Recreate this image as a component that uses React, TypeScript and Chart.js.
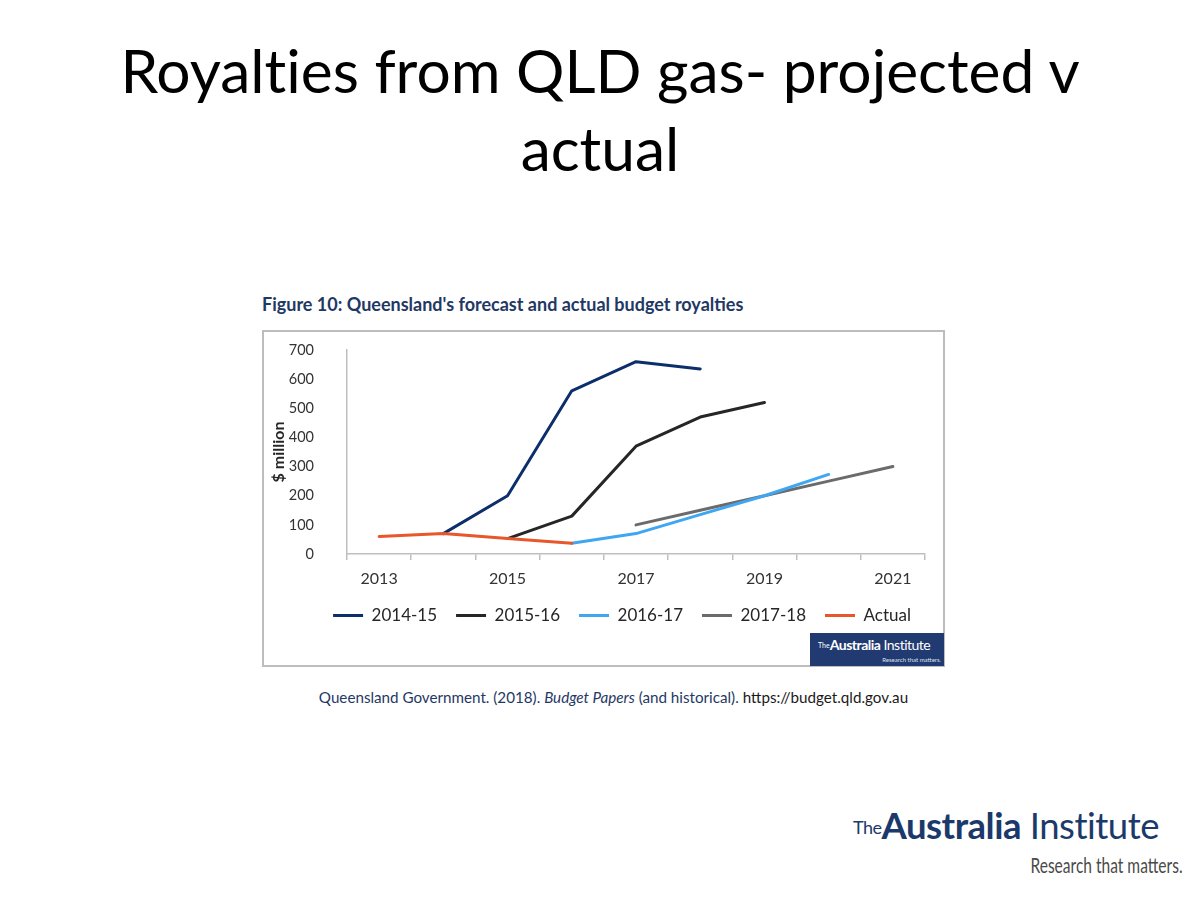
import React, { useEffect, useRef } from 'react';
import { Chart, registerables } from 'chart.js';

Chart.register(...registerables);

// ---- data ----
const years = ['2013', '2014', '2015', '2016', '2017', '2018', '2019', '2020', '2021'];
const shownYears = ['2013', '2015', '2017', '2019', '2021'];
const forecast201415 = [null, 70, 200, 560, 660, 635, null, null, null];
const forecast201516 = [null, null, 53, 130, 370, 470, 520, null, null];
const forecast201617 = [null, null, null, 37, 70, 135, 200, 273, null];
const forecast201718 = [null, null, null, null, 100, 150, 200, 250, 300];
const actual = [60, 70, 53, 37, null, null, null, null, null];
const yMin = 0;
const yMax = 700;
const yStep = 100;

const seriesNames = ['2014-15', '2015-16', '2016-17', '2017-18', 'Actual'];
const seriesColors = ['#0c2f6b', '#262626', '#3fa6f2', '#6b6b6b', '#e8562c'];

const FONT = 'Lato, "Open Sans", sans-serif';
const NAVY = '#1f3864';

export default function App() {
  const ref = useRef<HTMLCanvasElement>(null);

  useEffect(() => {
    const seriesData = [forecast201415, forecast201516, forecast201617, forecast201718, actual];
    const chart = new Chart(ref.current!, {
      type: 'line',
      data: {
        labels: years,
        datasets: seriesNames.map((name, i) => ({
          label: name,
          data: seriesData[i],
          borderColor: seriesColors[i],
          backgroundColor: seriesColors[i],
          borderWidth: 3,
          pointRadius: 0,
          pointHoverRadius: 0,
          tension: 0,
          borderCapStyle: 'round' as const,
          borderJoinStyle: 'round' as const,
          spanGaps: false,
          order: name === 'Actual' ? 0 : 1,
          yAxisID: 'y',
        })),
      },
      options: {
        responsive: false,
        animation: false,
        events: [],
        layout: { padding: { left: 9, right: 0, top: 19, bottom: 31 } },
        plugins: {
          tooltip: { enabled: false },
          legend: {
            display: true,
            position: 'bottom',
            align: 'center',
            labels: {
              boxWidth: 30,
              boxHeight: 3,
              padding: 19,
              color: '#262626',
              font: { family: FONT, size: 17 },
              sort: (a: any, b: any) => a.datasetIndex - b.datasetIndex,
              generateLabels: (c: any) =>
                Chart.defaults.plugins.legend.labels
                  .generateLabels(c)
                  .map((it: any) => ({ ...it, lineWidth: 0 })),
            },
          },
        },
        scales: {
          x: {
            type: 'category',
            offset: true,
            afterFit: (s: any) => {
              s.height = 34;
            },
            grid: {
              display: true,
              offset: true,
              drawOnChartArea: false,
              drawTicks: true,
              tickLength: 6,
              color: '#bfbfbf',
              lineWidth: 1.5,
            },
            border: { display: true, color: '#bfbfbf', width: 1.5 },
            ticks: {
              autoSkip: false,
              maxRotation: 0,
              padding: 9,
              color: '#333333',
              font: { family: FONT, size: 16 },
              callback: (_v: any, i: number) => (shownYears.includes(years[i]) ? years[i] : ''),
            },
          },
          y: {
            position: 'left',
            min: yMin,
            max: yMax,
            afterFit: (s: any) => {
              s.width = 75;
              s.paddingTop = 10;
              s.paddingBottom = 10;
            },
            grid: { display: false, drawTicks: false },
            border: { display: true, color: '#bfbfbf', width: 1.5 },
            ticks: {
              stepSize: yStep,
              padding: 33,
              color: '#333333',
              font: { family: FONT, size: 14.5 },
            },
            title: {
              display: true,
              text: '$ million',
              color: '#262626',
              font: { family: FONT, size: 16, weight: 'bold' },
              padding: { top: -3, bottom: 0 },
            },
          },
          spacer: {
            type: 'linear',
            position: 'right',
            display: true,
            afterFit: (s: any) => {
              s.width = 47;
              s.paddingTop = 0;
              s.paddingBottom = 0;
            },
            grid: { display: false, drawTicks: false },
            border: { display: false },
            ticks: { display: false },
          },
        },
      },
    } as any);
    return () => chart.destroy();
  }, []);

  return (
    <div
      style={{
        position: 'absolute',
        left: 0,
        top: 0,
        width: 1200,
        height: 900,
        background: '#ffffff',
        overflow: 'hidden',
        fontFamily: FONT,
      }}
    >
      <div
        style={{
          position: 'absolute',
          left: 0,
          top: 31,
          width: 1200,
          textAlign: 'center',
          fontSize: 60.5,
          lineHeight: '78px',
          color: '#000',
          fontVariantLigatures: 'none',
        }}
      >
        Royalties from QLD gas- projected v
        <br />
        actual
      </div>

      <div
        style={{
          position: 'absolute',
          left: 262,
          top: 293,
          fontSize: 18,
          fontWeight: 700,
          color: NAVY,
          whiteSpace: 'nowrap',
        }}
      >
        Figure 10: Queensland's forecast and actual budget royalties
      </div>

      <div
        style={{
          position: 'absolute',
          left: 262,
          top: 330,
          width: 683,
          height: 337,
          border: '2px solid #bdbdbd',
          boxSizing: 'border-box',
        }}
      />

      <canvas
        ref={ref}
        width={709}
        height={334}
        style={{ position: 'absolute', left: 263, top: 331, width: 709, height: 334 }}
      />

      <div
        style={{
          position: 'absolute',
          left: 810,
          top: 633,
          width: 134,
          height: 33,
          background: '#213a72',
          color: '#fff',
        }}
      >
        <div style={{ position: 'absolute', left: 8, top: 4, whiteSpace: 'nowrap', fontSize: 14, lineHeight: '16px' }}>
          <span style={{ fontSize: 7, verticalAlign: 'top' }}>The</span>
          <span style={{ fontWeight: 700, letterSpacing: -0.5 }}>Australia</span>
          <span style={{ letterSpacing: -0.5 }}> Institute</span>
        </div>
        <div
          style={{
            position: 'absolute',
            right: 3,
            top: 23,
            fontSize: 6,
            lineHeight: '7px',
            whiteSpace: 'nowrap',
            color: '#dfe4ee',
          }}
        >
          Research that matters.
        </div>
      </div>

      <div
        style={{
          position: 'absolute',
          left: 0,
          top: 688,
          width: 1227,
          textAlign: 'center',
          fontSize: 15.2,
          color: NAVY,
          whiteSpace: 'nowrap',
        }}
      >
        Queensland Government. (2018). <i>Budget Papers</i> (and historical).{' '}
        <span style={{ color: '#1a1a1a' }}>https://budget.qld.gov.au</span>
      </div>

      <div
        style={{
          position: 'absolute',
          left: 853,
          top: 805,
          whiteSpace: 'nowrap',
          color: '#1b3a6b',
          fontSize: 36.5,
          lineHeight: '40px',
        }}
      >
        <span style={{ fontSize: 18, verticalAlign: 'top', position: 'relative', top: 2, letterSpacing: -0.5 }}>The</span>
        <span style={{ fontWeight: 700, letterSpacing: -0.5 }}>Australia</span>
        <span style={{ letterSpacing: -0.5 }}> Institute</span>
      </div>

      <div
        style={{
          position: 'absolute',
          right: 17,
          top: 852,
          whiteSpace: 'nowrap',
          color: '#4a4a4a',
          fontSize: 21,
          lineHeight: '26px',
          transform: 'scaleX(0.74)',
          transformOrigin: 'right top',
        }}
      >
        Research that matters.
      </div>
    </div>
  );
}
